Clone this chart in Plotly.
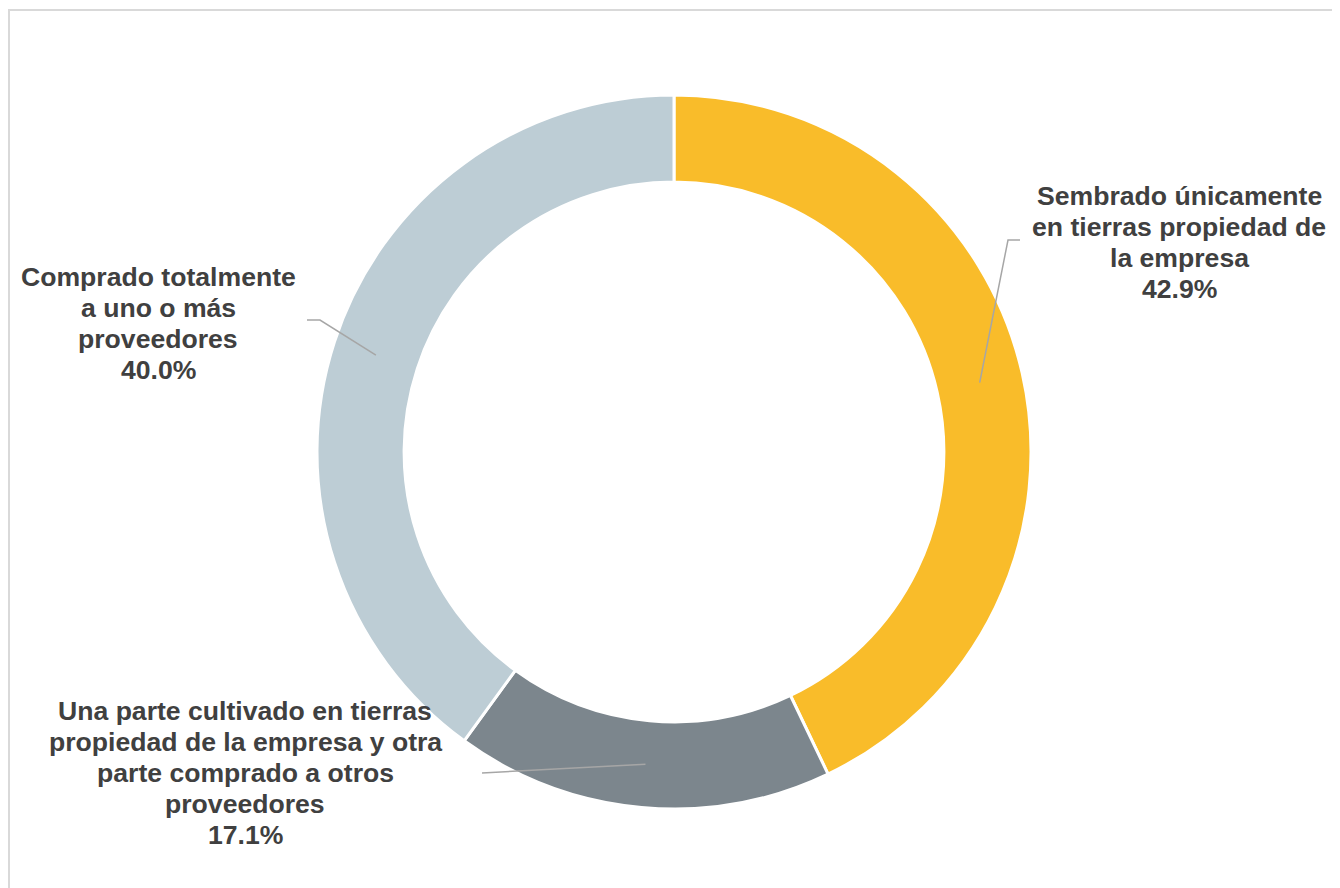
import math
import plotly.graph_objects as go

# ---- data ----
labels = [
    "Sembrado únicamente<br>en tierras propiedad de<br>la empresa",
    "Una parte cultivado en tierras<br>propiedad de la empresa y otra<br>parte comprado a otros<br>proveedores",
    "Comprado totalmente<br>a uno o más<br>proveedores",
]
values = [42.9, 17.1, 40.0]
pct_text = ["42.9%", "17.1%", "40.0%"]
colors = ["#F9BC2A", "#7C868D", "#BDCDD5"]

# ---- layout constants (page pixels) ----
PAGE_OFF = 8            # body margin of the html page
W, H = 1340 - 2 * PAGE_OFF, 888 - PAGE_OFF
CX, CY, R = 674, 452, 357
HOLE = 0.756
TEXT_COLOR = "#404040"
FONT = "Liberation Sans, Arial, sans-serif"
FS = 26.6
LINE_H = 31
# label block: (center x, center y of first line)
label_pos = [(1179, 196), (245, 711), (158, 277)]
# leader elbow and end points
leader_pts = [[(1008, 240), (1020, 240)], [(482, 773)], [(320, 320), (307, 320)]]


def px(x):
    return (x - PAGE_OFF) / W


def py(y):
    return 1 - (y - PAGE_OFF) / H


fig = go.Figure(
    go.Pie(
        labels=[l.replace("<br>", " ") for l in labels],
        values=values,
        hole=HOLE,
        sort=False,
        direction="clockwise",
        rotation=0,
        marker=dict(colors=colors, line=dict(color="white", width=3)),
        textinfo="none",
        hoverinfo="label+percent",
        showlegend=False,
        domain=dict(x=[px(CX - R), px(CX + R)], y=[py(CY + R), py(CY - R)]),
    )
)

annotations = []
shapes = []
total = sum(values)
cum = 0.0
rmid = R * (1 + HOLE) / 2
for i, v in enumerate(values):
    mid = (cum + v / 2) / total * 2 * math.pi
    cum += v
    sx = CX + rmid * math.sin(mid)
    sy = CY - rmid * math.cos(mid)
    pts = [(sx, sy)] + leader_pts[i]
    path = "M " + " L ".join(f"{px(x):.5f},{py(y):.5f}" for x, y in pts)
    shapes.append(dict(type="path", xref="paper", yref="paper", path=path,
                       line=dict(color="#A6A6A6", width=1.5)))
    lines = labels[i].split("<br>") + [pct_text[i]]
    lx, ly = label_pos[i]
    for j, t in enumerate(lines):
        annotations.append(dict(
            text=f"<b>{t}</b>", x=px(lx), y=py(ly + j * LINE_H),
            xref="paper", yref="paper", xanchor="center", yanchor="middle",
            showarrow=False, font=dict(family=FONT, size=FS, color=TEXT_COLOR),
        ))

# chart border
shapes.append(dict(type="rect", xref="paper", yref="paper",
                   x0=px(9), x1=px(1338), y0=py(900), y1=py(10),
                   line=dict(color="#D9D9D9", width=2)))

fig.update_layout(
    width=W, height=H,
    margin=dict(l=0, r=0, t=0, b=0),
    paper_bgcolor="white", plot_bgcolor="white",
    annotations=annotations, shapes=shapes,
)

fig.write_html("out.html")
